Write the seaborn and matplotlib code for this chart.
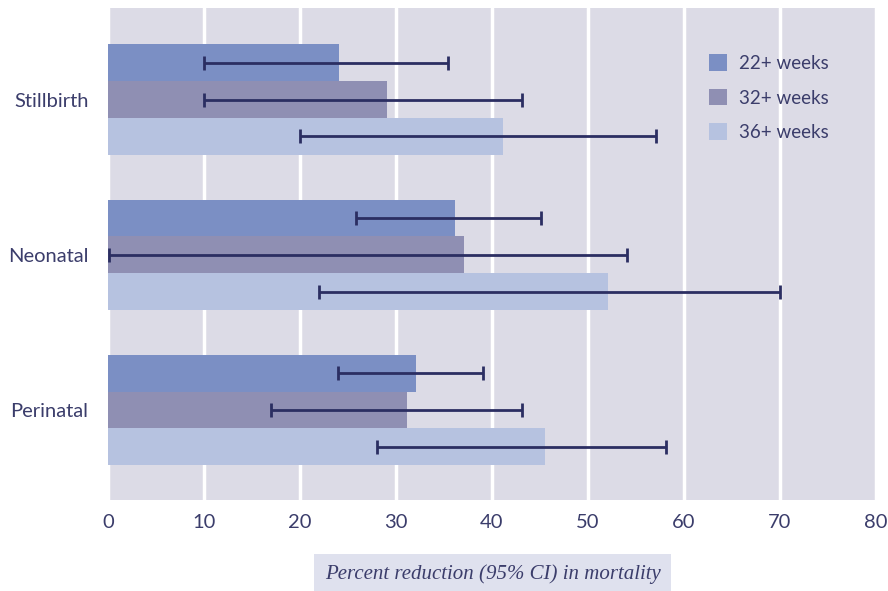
import matplotlib
matplotlib.use("Agg")
import matplotlib.pyplot as plt
import seaborn as sns
import pandas as pd
import numpy as np

categories = ["Stillbirth", "Neonatal", "Perinatal"]
groups = ["22+ weeks", "32+ weeks", "36+ weeks"]
values = {
    "22+ weeks": [24.1, 36.1, 32.1],
    "32+ weeks": [29.1, 37.1, 31.1],
    "36+ weeks": [41.1, 52.1, 45.5],
}
ci_low = {
    "22+ weeks": [10, 25.8, 24.0],
    "32+ weeks": [10, 0.1, 17.0],
    "36+ weeks": [20, 22.0, 28.0],
}
ci_high = {
    "22+ weeks": [35.4, 45.1, 39.1],
    "32+ weeks": [43.1, 54.1, 43.1],
    "36+ weeks": [57.1, 70.0, 58.1],
}
colors = ["#7b8fc4", "#8f8fb3", "#b6c2e0"]
text_color = "#3b3d6b"
err_color = "#2b2e62"

rows = []
for g in groups:
    for c, v, lo, hi in zip(categories, values[g], ci_low[g], ci_high[g]):
        rows.append({"cat": c, "grp": g, "val": v, "lo": lo, "hi": hi})
df = pd.DataFrame(rows)

sns.set_style("white")
plt.rcParams["font.family"] = ["Lato", "DejaVu Sans"]

fig = plt.figure(figsize=(8.88, 5.91), dpi=100)
ax = fig.add_axes([108/888, 91/591, 768/888, 492/591])
ax.set_facecolor("#dcdbe6")

sns.barplot(data=df, x="val", y="cat", hue="grp", order=categories,
            hue_order=groups, palette=colors, orient="h", width=0.71,
            errorbar=None, ax=ax, saturation=1, linewidth=0, zorder=3)

# error bars using bar positions from seaborn patches
for gi, g in enumerate(groups):
    cont = ax.containers[gi]
    sub = df[df.grp == g].set_index("cat").loc[categories]
    ys = [p.get_y() + p.get_height()/2 for p in cont.patches]
    xs = sub["val"].values
    lo = xs - sub["lo"].values
    hi = sub["hi"].values - xs
    ax.errorbar(xs, ys, xerr=[lo, hi], fmt="none", ecolor=err_color,
                elinewidth=2, capsize=5, capthick=2, zorder=4)

ax.set_xlim(0, 80)
ax.set_ylim(2.58, -0.59)
ax.set_xticks(range(0, 81, 10))
ax.xaxis.grid(True, color="white", linewidth=2.5, zorder=1)
ax.yaxis.grid(False)
ax.set_axisbelow(True)
for s in ax.spines.values():
    s.set_visible(False)
ax.tick_params(axis="both", length=0, labelsize=14.5, labelcolor=text_color)
ax.tick_params(axis="x", pad=10)
ax.tick_params(axis="y", pad=14)
ax.set_ylabel("")
ax.set_xlabel("")

leg = ax.legend(loc="upper left", bbox_to_anchor=(0.76, 0.94), frameon=False,
                fontsize=13.5, handlelength=1.0, handleheight=1.0,
                labelspacing=0.88, handletextpad=0.6)
for t in leg.get_texts():
    t.set_color(text_color)

fig.text((312+673)/2/888, 1 - 574/591, "Percent reduction (95% CI) in mortality",
         ha="center", va="center", fontsize=15, style="italic",
         family=["Liberation Serif", "DejaVu Serif"], color=text_color,
         bbox=dict(boxstyle="square,pad=0.5", facecolor="#dfe1ee",
                   edgecolor="none"))

fig.savefig("out.png", dpi=100)
